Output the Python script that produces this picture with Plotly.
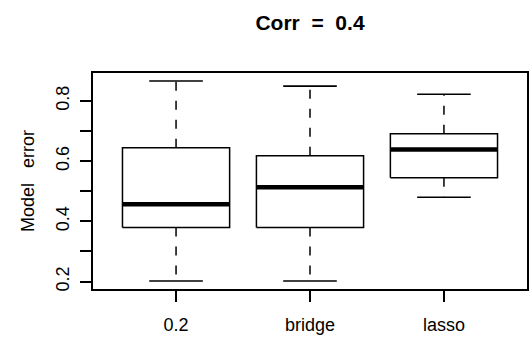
import plotly.graph_objects as go

# Five-number summaries of model error for each method
methods = ["0.2", "bridge", "lasso"]
lower_whisker = [0.202, 0.202, 0.480]
q1 = [0.380, 0.380, 0.545]
median = [0.457, 0.513, 0.639]
q3 = [0.644, 0.618, 0.691]
upper_whisker = [0.866, 0.849, 0.822]

y_ticks = [0.2, 0.3, 0.4, 0.5, 0.6, 0.7, 0.8]
y_tick_text = ["0.2", "", "0.4", "", "0.6", "", "0.8"]

BOX_HALF = 0.4
CAP_HALF = 0.2
INK = "black"

fig = go.Figure()

for i, name in enumerate(methods):
    x = i + 1
    # box outline
    fig.add_trace(go.Scatter(
        x=[x - BOX_HALF, x + BOX_HALF, x + BOX_HALF, x - BOX_HALF, x - BOX_HALF],
        y=[q1[i], q1[i], q3[i], q3[i], q1[i]],
        mode="lines", line=dict(color=INK, width=1.5), hoverinfo="skip"))
    # dashed whiskers, drawn outward from the box
    fig.add_trace(go.Scatter(
        x=[x, x], y=[q3[i], upper_whisker[i]],
        mode="lines", line=dict(color=INK, width=1.5, dash="9px,10px"),
        hoverinfo="skip"))
    fig.add_trace(go.Scatter(
        x=[x, x], y=[q1[i], lower_whisker[i]],
        mode="lines", line=dict(color=INK, width=1.5, dash="9px,10px"),
        hoverinfo="skip"))
    # whisker caps
    for end in (upper_whisker[i], lower_whisker[i]):
        fig.add_trace(go.Scatter(
            x=[x - CAP_HALF, x + CAP_HALF], y=[end, end],
            mode="lines", line=dict(color=INK, width=1.7), hoverinfo="skip"))
    # thick median bar
    fig.add_trace(go.Scatter(
        x=[x - BOX_HALF, x + BOX_HALF], y=[median[i], median[i]],
        mode="lines", line=dict(color=INK, width=4.5), hoverinfo="skip"))

font_family = "Liberation Sans, Arial, Helvetica, sans-serif"

fig.update_layout(
    width=529, height=341,
    margin=dict(l=93, r=0, t=73, b=52),
    paper_bgcolor="white", plot_bgcolor="white",
    showlegend=False,
    font=dict(family=font_family, size=18, color=INK),
    title=dict(
        text="<b>Corr\u00a0 =\u00a0 0.4</b>",
        x=0.5, xref="paper", xanchor="center",
        y=1 - 23 / 341, yref="container", yanchor="middle",
        font=dict(family=font_family, size=21, color=INK)),
    xaxis=dict(
        range=[0.38, 3.62],
        tickmode="array", tickvals=[1, 2, 3], ticktext=methods,
        ticks="outside", ticklen=11, tickwidth=1.5, tickcolor=INK,
        ticklabelstandoff=8,
        showline=True, linecolor=INK, linewidth=1.5, mirror=True,
        showgrid=False, zeroline=False),
    yaxis=dict(
        range=[0.1754, 0.8926],
        tickmode="array", tickvals=y_ticks, ticktext=y_tick_text,
        tickangle=-90,
        ticks="outside", ticklen=11, tickwidth=1.5, tickcolor=INK,
        ticklabelstandoff=4,
        showline=True, linecolor=INK, linewidth=1.5, mirror=True,
        showgrid=False, zeroline=False,
        title=dict(text="Model\u00a0\u00a0 error", standoff=14,
                   font=dict(family=font_family, size=18, color=INK))),
)

fig.write_html("out.html")
